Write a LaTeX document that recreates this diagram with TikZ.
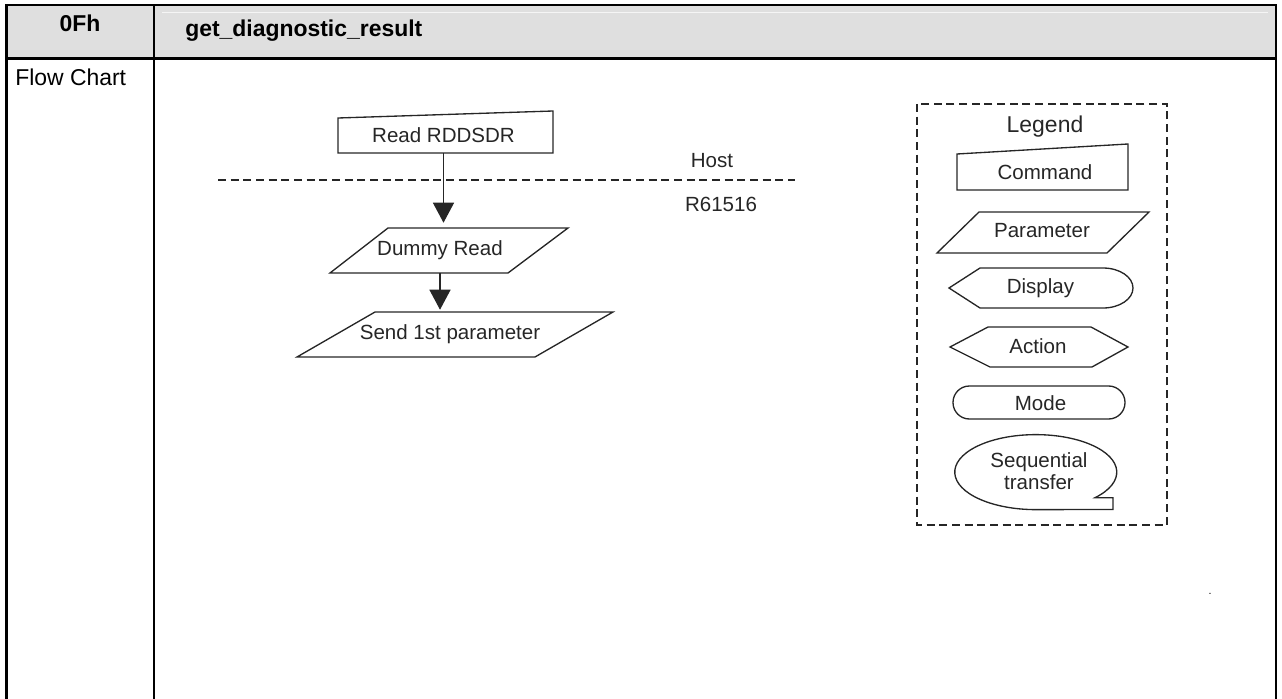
\documentclass[tikz,border=0pt]{standalone}
\usepackage{fontspec}
\setmainfont{Liberation Sans}
\usetikzlibrary{arrows.meta,calc}
\begin{document}
\begin{tikzpicture}[x=0.75pt,y=-0.75pt,
  frame/.style={line width=2pt},
  outline/.style={draw=black!85, line width=1pt, line join=miter},
  shapetext/.style={inner sep=0pt, font=\fontsize{15.4}{19}\selectfont, text=black!85, align=center},
  cell/.style={inner sep=0pt, font=\fontsize{17.2}{20}\selectfont},
  flow/.style={draw=black!85, line width=1pt, -{Triangle[width=15.75pt,length=15pt]}},
  sepline/.style={draw=black!85, line width=1pt, dash pattern=on 6pt off 3.5pt},
]
\useasboundingbox (0,0) rectangle (1282,699);

% ---- table frame ----
\fill[gray!25] (6.7,5) rectangle (1276,58.3);
\draw[gray!8, line width=0.75pt] (162,12.7) -- (1268,12.7);
\draw[frame] (6.7,699) -- (6.7,5) -- (1276,5) -- (1276,699);
\draw[frame] (6.7,58.3) -- (1276,58.3);
\draw[frame] (154,5) -- (154,699);

\node[cell, font=\fontsize{17.2}{20}\selectfont\bfseries, anchor=base] (code) at (80,32) {0Fh};
\node[cell, font=\fontsize{17.2}{20}\selectfont\bfseries, anchor=base west] (title) at (185,37) {get\_diagnostic\_result};
\node[cell, anchor=base west] (rowlabel) at (15,85) {Flow Chart};

% ---- host / driver boundary ----
\coordinate (sepL) at (218,180);
\coordinate (sepR) at (795,180);
\draw[sepline] (sepL) -- (sepR);
\node[shapetext] (host) at (712,160.5) {Host};
\node[shapetext] (chip) at (721,204) {R61516};

% ---- flow ----
\draw[outline] (338,153) -- (553,153) -- (553,111) -- (338,118) -- cycle;
\node[shapetext, minimum height=26.25pt] (read) at (443.5,135.5) {Read RDDSDR};

\draw[outline] (388,228) -- (568,228) -- (508,273) -- (330,273) -- cycle;
\node[shapetext, minimum height=33.75pt] (dummy) at (440,250.5) {Dummy Read};

\draw[outline] (375,312) -- (613,312) -- (535,357) -- (297,357) -- cycle;
\node[shapetext, minimum height=33.75pt] (send) at (450,334.5) {Send 1st parameter};

\draw[flow, shorten >=3.75pt] (read.south) -- (read.south |- dummy.north);
\draw[flow, shorten >=1.5pt] (dummy.south) -- (dummy.south |- send.north);

% ---- legend ----
\draw[sepline] (917,104) rectangle (1167,525);
\node[shapetext, font=\fontsize{17.2}{20}\selectfont] (legend) at (1045,127) {Legend};

\draw[outline] (957,190) -- (1128,190) -- (1128,144) -- (957,154) -- cycle;
\node[shapetext] (cmd) at (1045,172) {Command};

\draw[outline] (979,212) -- (1149,212) -- (1107,253) -- (937,253) -- cycle;
\node[shapetext] (param) at (1042,231) {Parameter};

\draw[outline] (949,288) -- (980,268) -- (1103,268)
  arc[start angle=-90, end angle=90, x radius=30, y radius=20]
  -- (980,308) -- cycle;
\node[shapetext] (disp) at (1040.5,288) {Display};

\draw[outline] (950,347) -- (988,327) -- (1091,327) -- (1128,347) -- (1092,367) -- (990,367) -- cycle;
\node[shapetext] (act) at (1038,346) {Action};

\draw[outline, rounded corners=12.3pt] (953,386) rectangle (1125,419);
\node[shapetext] (mode) at (1040.5,403) {Mode};

\draw[outline] (1095,497.7)
  arc[start angle=43, end angle=-270, x radius=81, y radius=37.5]
  -- (1113,509.5) -- (1113,497.7) -- cycle;
\node[shapetext, font=\fontsize{15.4}{16.5}\selectfont] (seq) at (1039,471) {Sequential\\transfer};

\node[inner sep=0pt, font=\fontsize{8}{9}\selectfont, anchor=base] (dot) at (1210,594.5) {.};
\end{tikzpicture}
\end{document}
